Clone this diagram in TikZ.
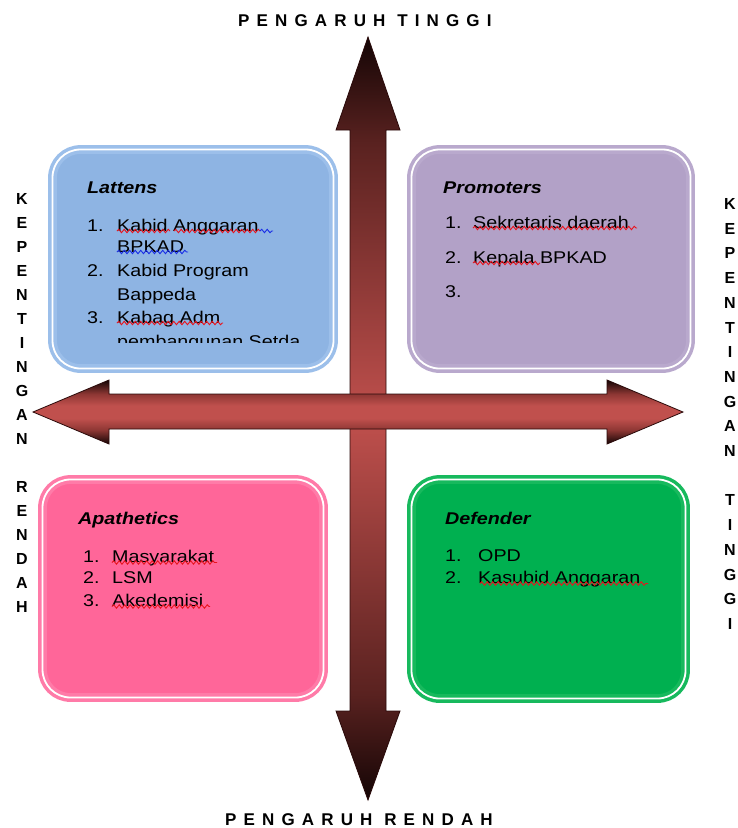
\documentclass[tikz,border=0pt]{standalone}
\usepackage{fontspec}
\setmainfont{Liberation Sans}
\usetikzlibrary{decorations.pathmorphing}
\definecolor{latfill}{HTML}{8EB4E3}
\definecolor{latline}{HTML}{9CBFEA}
\definecolor{profill}{HTML}{B2A1C7}
\definecolor{proline}{HTML}{B9A9CD}
\definecolor{apafill}{HTML}{FF6699}
\definecolor{apaline}{HTML}{FF7BA8}
\definecolor{deffill}{HTML}{00B050}
\definecolor{defline}{HTML}{17B95D}
\definecolor{arrred}{HTML}{C0504D}
\definecolor{arrdark}{HTML}{140505}
\definecolor{arrbrown}{HTML}{5A2220}
\definecolor{arrmid}{HTML}{8E3734}
\definecolor{arredge}{HTML}{2A0A0A}
\definecolor{spellred}{HTML}{E8141E}
\definecolor{spellblue}{HTML}{1A2EE6}
\pgfdeclareverticalshading{vshade}{100bp}{color(0bp)=(arrdark); color(25bp)=(arrdark); color(32bp)=(arrbrown); color(50bp)=(arrred); color(68bp)=(arrbrown); color(75bp)=(arrdark); color(100bp)=(arrdark)}
\pgfdeclareverticalshading{hshade}{100bp}{color(0bp)=(arrdark); color(25bp)=(arrdark); color(36bp)=(arrmid); color(45bp)=(arrred); color(55bp)=(arrred); color(64bp)=(arrmid); color(75bp)=(arrdark); color(100bp)=(arrdark)}
\newcommand\stretchtxt[1]{\scalebox{1.16}[1]{#1}}
\tikzset{
  txt/.style={anchor=base west, inner sep=0pt, font=\fontsize{17}{20}\selectfont},
  ttl/.style={anchor=base west, inner sep=0pt, font=\fontsize{17}{20}\selectfont\bfseries\itshape},
  quad/.style={rounded corners=28pt, line width=3.5pt, double=white, double distance=1.8pt, inner sep=0pt},
  side/.style={inner sep=0pt, font=\fontsize{16}{18}\selectfont\bfseries},
  axislbl/.style={anchor=base west, inner sep=0pt, font=\fontsize{17}{20}\selectfont\bfseries\addfontfeature{LetterSpace=42}},
  squig/.style={decorate, decoration={snake, amplitude=1.7pt, segment length=5.5pt}, line width=0.9pt},
  arrowshape/.style={draw=arredge, line width=0.8pt, line join=miter},
}
\begin{document}
\begin{tikzpicture}[x=1pt,y=-1pt]
\useasboundingbox (0,0) rectangle (738,828);

% quadrant boxes
\node[quad, fill=latfill, draw=latline, minimum width=281pt, minimum height=219pt] (lat) at (193,259) {};
\node[quad, fill=profill, draw=proline, minimum width=279pt, minimum height=219pt] (pro) at (551,259) {};
\node[quad, fill=apafill, draw=apaline, minimum width=281pt, minimum height=218pt] (apa) at (183,588.5) {};
\node[quad, fill=deffill, draw=defline, minimum width=274pt, minimum height=219pt] (def) at (548.5,589) {};

% vertical block arrow
\path[shade, shading=vshade, arrowshape]
  (368,37) -- (400,130) -- (386,130) -- (386,711) -- (400,711) -- (368,800)
  -- (336,711) -- (350,711) -- (350,130) -- (336,130) -- cycle;
% horizontal block arrow
\path[shade, shading=hshade, arrowshape]
  (33,412) -- (109,380) -- (109,394) -- (607,394) -- (607,380) -- (683,412)
  -- (607,444) -- (607,429) -- (109,429) -- (109,444) -- cycle;

% axis labels
\node[axislbl] (top) at (238,26.7) {PENGARUH TINGGI};
\node[axislbl] (bot) at (225,825.5) {PENGARUH RENDAH};
\foreach \ch [count=\i from 0] in {K,E,P,E,N,T,I,N,G,A,N}
  \node[side] (lk\i) at (22,199+24*\i) {\ch};
\foreach \ch [count=\i from 12] in {R,E,N,D,A,H}
  \node[side] (lr\i) at (22,199+24*\i) {\ch};
\foreach \ch [count=\i from 0] in {K,E,P,E,N,T,I,N,G,A,N}
  \node[side] (rk\i) at (730,204+24.7*\i) {\ch};
\foreach \ch [count=\i from 12] in {T,I,N,G,G,I}
  \node[side] (rt\i) at (730,204+24.7*\i) {\ch};

% Lattens
\node[ttl] (latT) at (87,193.5) {\stretchtxt{Lattens}};
\node[txt] (lat1n) at (87,231) {\stretchtxt{1.}};
\node[txt] (lat1) at (117,231) {\stretchtxt{Kabid Anggaran}};
\node[txt] (lat1b) at (117,252) {\stretchtxt{BPKAD}};
\node[txt] (lat2n) at (87,276) {\stretchtxt{2.}};
\node[txt] (lat2) at (117,276) {\stretchtxt{Kabid Program}};
\node[txt] (lat2b) at (117,300) {\stretchtxt{Bappeda}};
\node[txt] (lat3n) at (87,323) {\stretchtxt{3.}};
\node[txt] (lat3) at (117,323) {\stretchtxt{Kabag Adm}};
\begin{scope}
  \clip (40,140) rectangle (340,342.5);
  \node[txt] (lat3b) at (117,347) {\stretchtxt{pembangunan Setda}};
\end{scope}
\draw[squig, spellred] (117,231) -- (170,231);
\draw[squig, spellred] (174,231) -- (260,231);
\draw[squig, spellblue] (260,231) -- (273,231);
\draw[squig, spellblue] (117,252) -- (188,252);
\draw[squig, spellred] (117,323) -- (223,323);

% Promoters
\node[ttl] (proT) at (443,193.5) {\stretchtxt{Promoters}};
\node[txt] (pro1n) at (445,228) {\stretchtxt{1.}};
\node[txt] (pro1) at (473,228) {\stretchtxt{Sekretaris daerah}};
\node[txt] (pro2n) at (445,263) {\stretchtxt{2.}};
\node[txt] (pro2) at (473,263) {\stretchtxt{Kepala BPKAD}};
\node[txt] (pro3n) at (445,297) {\stretchtxt{3.}};
\draw[squig, spellred] (473,228) -- (637,228);
\draw[squig, spellred] (473,263) -- (540,263);

% Apathetics
\node[ttl] (apaT) at (78,524) {\stretchtxt{Apathetics}};
\node[txt] (apa1n) at (83,562) {\stretchtxt{1.}};
\node[txt] (apa1) at (112,562) {\stretchtxt{Masyarakat}};
\node[txt] (apa2n) at (83,583) {\stretchtxt{2.}};
\node[txt] (apa2) at (112,583) {\stretchtxt{LSM}};
\node[txt] (apa3n) at (83,606.5) {\stretchtxt{3.}};
\node[txt] (apa3) at (112,606.5) {\stretchtxt{Akedemisi}};
\draw[squig, spellred] (112,562.5) -- (217,562.5);
\draw[squig, spellred] (112,606.5) -- (210,606.5);

% Defender
\node[ttl] (defT) at (445,524) {\stretchtxt{Defender}};
\node[txt] (def1n) at (445,561) {\stretchtxt{1.}};
\node[txt] (def1) at (478,561) {\stretchtxt{OPD}};
\node[txt] (def2n) at (445,583) {\stretchtxt{2.}};
\node[txt] (def2) at (478,583) {\stretchtxt{Kasubid Anggaran}};
\draw[squig, spellred] (480,583.5) -- (648,583.5);
\end{tikzpicture}
\end{document}
